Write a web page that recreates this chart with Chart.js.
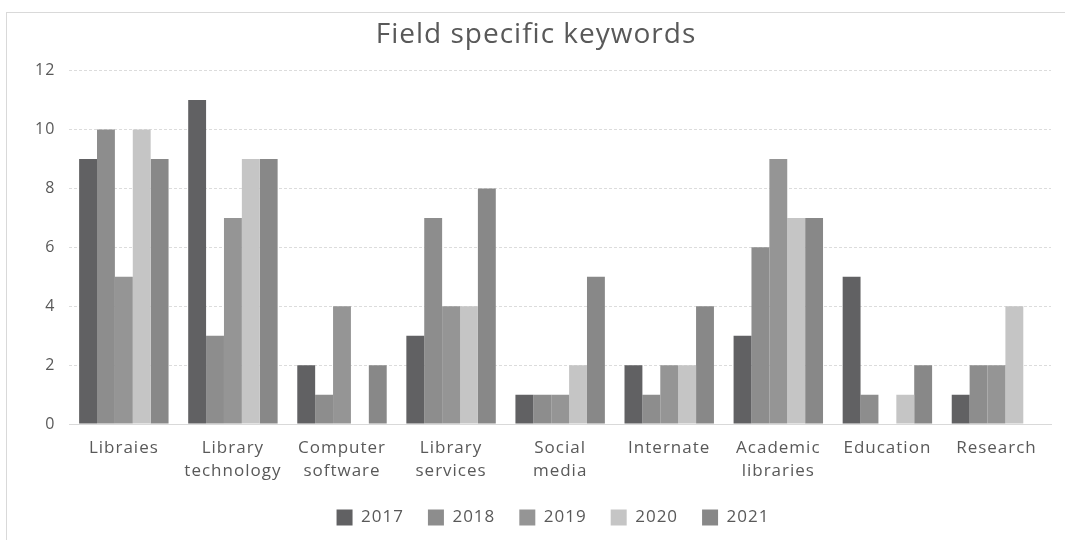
<!DOCTYPE html>
<html>
<head>
<meta charset="utf-8">
<script src="https://cdn.jsdelivr.net/npm/chart.js@4/dist/chart.umd.min.js"></script>
<style>
    html, body { margin: 0; padding: 0; background: #fff; }
    #wrap {
        position: absolute; left: 6px; top: 12px;
        width: 1100px; height: 560px;
        border: 1px solid #d9d9d9;
    }
    #box { position: absolute; left: 0; top: 0; width: 1065px; height: 540px; }
</style>
</head>
<body>
<div id="wrap"></div>
<div id="box"><canvas id="chart" width="1065" height="540"></canvas></div>
<script>
// Categories (x axis)
const categories = [
    'Libraies',
    ['Library', 'technology'],
    ['Computer', 'software'],
    ['Library', 'services'],
    ['Social', 'media'],
    'Internate',
    ['Academic', 'libraries'],
    'Education',
    'Research'
];

// Series values per year
const years = ['2017', '2018', '2019', '2020', '2021'];
const v2017 = [9, 11, 2, 3, 1, 2, 3, 5, 1];
const v2018 = [10, 3, 1, 7, 1, 1, 6, 1, 2];
const v2019 = [5, 7, 4, 4, 1, 2, 9, 0, 2];
const v2020 = [10, 9, 0, 4, 2, 2, 7, 1, 4];
const v2021 = [9, 9, 2, 8, 5, 4, 7, 2, 0];

const yTicks = [0, 2, 4, 6, 8, 10, 12];

const seriesColors = ['#616163', '#8d8d8d', '#959595', '#c5c5c5', '#888888'];
const allValues = [v2017, v2018, v2019, v2020, v2021];

const datasets = years.map((y, i) => ({
    label: y,
    data: allValues[i],
    backgroundColor: seriesColors[i],
    borderWidth: 0,
    barPercentage: 1.0,
    categoryPercentage: 0.82
}));

// the original text is set wide, so space the letters a little
const wideText = {
    id: 'wideText',
    beforeUpdate(chart) { chart.ctx.letterSpacing = '1px'; },
    beforeDraw(chart) { chart.ctx.letterSpacing = '1px'; }
};

// nudge the legend: centred under the plot rather than the canvas
const legendNudge = {
    id: 'legendNudge',
    afterLayout(chart) {
        const lg = chart.legend;
        if (!lg) return;
        lg.top -= 3; lg.bottom -= 3;
        lg.left += 17; lg.right += 17;
    }
};

const ctx = document.getElementById('chart').getContext('2d');
new Chart(ctx, {
    type: 'bar',
    data: { labels: categories, datasets: datasets },
    plugins: [wideText, legendNudge],
    options: {
        responsive: false,
        animation: false,
        layout: { padding: { left: 21, right: 14, top: 8, bottom: 1 } },
        plugins: {
            title: {
                display: true,
                text: 'Field specific keywords',
                color: '#595959',
                font: { family: 'Open Sans', size: 28, weight: 'normal' },
                padding: { top: 10, bottom: 19 }
            },
            legend: {
                position: 'bottom',
                labels: {
                    color: '#595959',
                    font: { family: 'Open Sans', size: 17 },
                    boxWidth: 16,
                    boxHeight: 16,
                    padding: 24
                }
            },
            tooltip: { enabled: false }
        },
        scales: {
            x: {
                grid: { display: false },
                border: { display: true, color: '#d9d9d9' },
                ticks: {
                    color: '#595959',
                    font: { family: 'Open Sans', size: 17, lineHeight: 1.35 },
                    maxRotation: 0,
                    autoSkip: false,
                    padding: 5
                }
            },
            y: {
                min: 0,
                max: 12,
                afterBuildTicks: axis => { axis.ticks = yTicks.map(v => ({ value: v })); },
                grid: { color: '#dcdcdc', drawTicks: false },
                border: { display: false, dash: [3, 2] },
                ticks: {
                    color: '#595959',
                    font: { family: 'Open Sans', size: 16 },
                    padding: 14
                }
            }
        }
    }
});
</script>
</body>
</html>
